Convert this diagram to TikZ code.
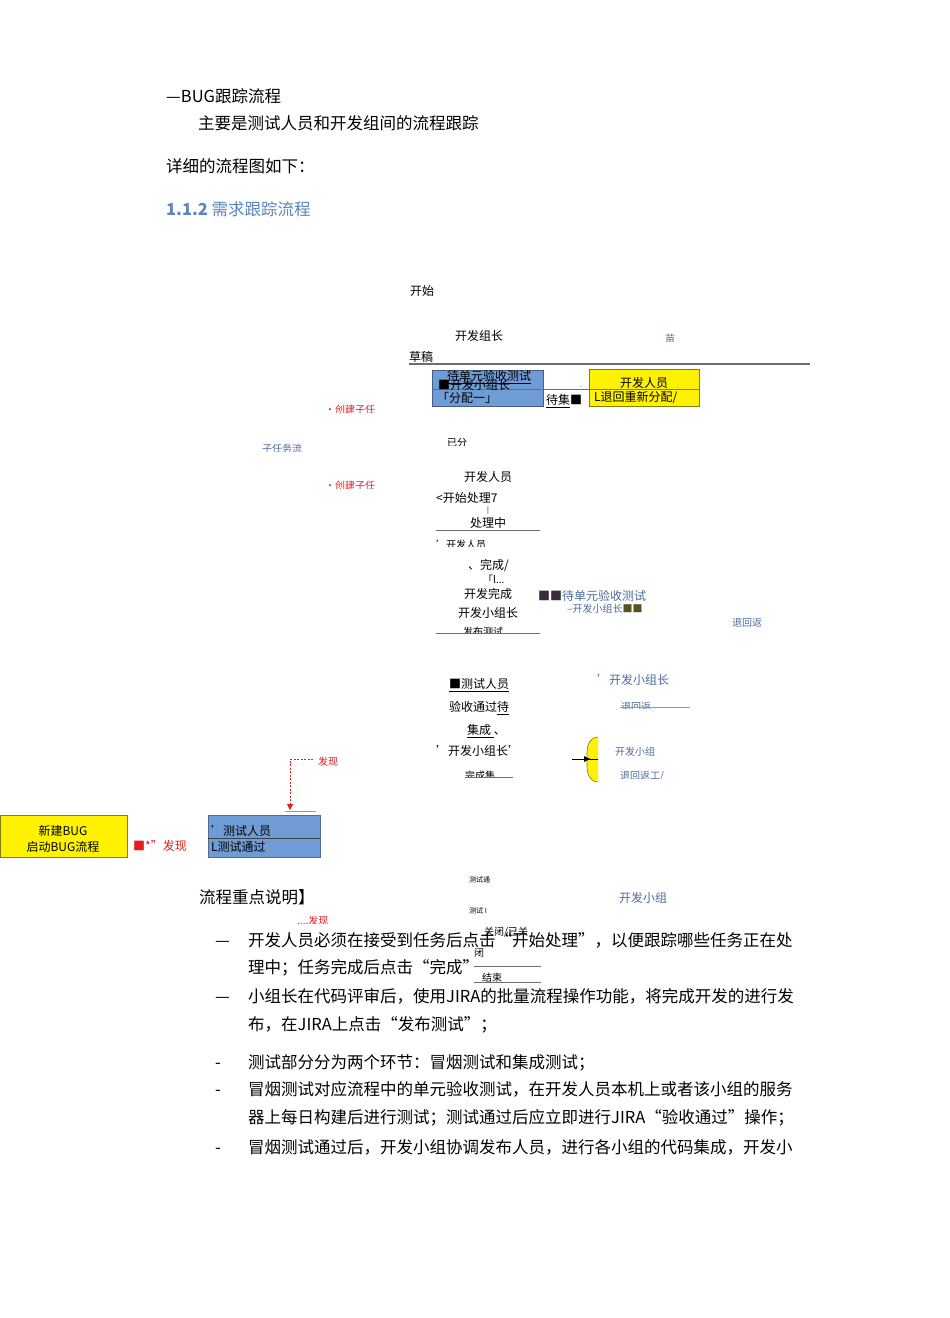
\documentclass[tikz,border=0pt]{standalone}
\usepackage{fontspec}
\setmainfont{Noto Sans CJK SC}
\usetikzlibrary{arrows.meta}
\definecolor{tblue}{RGB}{79,108,160}
\definecolor{hblue}{RGB}{92,132,192}
\definecolor{boxblue}{RGB}{112,156,214}
\definecolor{olivec}{RGB}{130,125,20}
\definecolor{tred}{RGB}{228,30,30}
\definecolor{sqc}{RGB}{55,45,60}
\definecolor{sqol}{RGB}{85,85,30}
\definecolor{linec}{RGB}{110,110,110}
\tikzset{
  txt/.style={anchor=west,inner sep=0pt,font=\fontsize{16.5}{19}\selectfont,text height=14.5pt,text depth=2pt},
  sm/.style={anchor=west,inner sep=0pt,font=\fontsize{12}{14}\selectfont,text height=10.5pt,text depth=1.5pt},
  smc/.style={sm,anchor=center},
  xs/.style={anchor=west,inner sep=0pt,font=\fontsize{10}{12}\selectfont,text height=8.8pt,text depth=1.2pt},
  tn/.style={anchor=west,inner sep=0pt,font=\fontsize{7}{8}\selectfont,text height=6.2pt,text depth=0.8pt},
  rule/.style={draw=linec,line width=0.8pt},
  bluebox/.style={fill=boxblue,draw=boxblue!70!black,line width=0.4pt},
  yelbox/.style={fill=yellow,draw=olivec,line width=0.8pt}
}
\begin{document}
\begin{tikzpicture}[x=1pt,y=-1pt]
\useasboundingbox[fill=white] (0,0) rectangle (950,1318);

% ---------- heading text ----------
\node[txt] (h1) at (166,96) {—BUG跟踪流程};
\node[txt] (h2) at (198,123) {主要是测试人员和开发组间的流程跟踪};
\node[txt] (h3) at (166,166) {详细的流程图如下：};
\node[txt,text=hblue] (h4) at (166,209) {\textbf{1.1.2} 需求跟踪流程};

% ---------- top of diagram ----------
\node[sm] (start) at (410,291) {开始};
\node[sm] (zz) at (455,336) {开发组长};
\begin{scope}
  \clip (660,333) rectangle (690,341);
  \node[xs,text=tblue] (miao) at (665,339) {苗};
\end{scope}
\node[sm] (cg) at (409,357) {草稿};
\draw[draw=linec,line width=1.3pt] (409,364) -- (810,364);

% blue box and yellow box
\fill[boxblue] (432,370) rectangle (543,406);
\draw[draw=boxblue!60!black,line width=0.3pt] (432,370) rectangle (543,406);
\node[yelbox,minimum width=110pt,minimum height=37pt,inner sep=0pt,anchor=north west] (ybox1) at (589,369) {};
\draw[draw=linec,line width=0.8pt] (432,389) -- (ybox1.west |- 0,389);
\draw[draw=olivec,line width=0.6pt] (589,389) -- (699,389);
\node[sm] (dy) at (447,376) {\underline{待单元验收测试}};
\node[sm] (kfxz) at (438,385) {■开发小组长};
\node[sm] (fp) at (437,398) {「分配一」};
\node[sm] (djc) at (546,400) {\underline{待集}■};
\node[tn] (dot) at (580,385) {.};
\node[smc] (kfry1) at (644,383) {开发人员};
\node[sm] (th) at (594,397) {L退回重新分配/};

% left labels
\begin{scope}
  \clip (320,404) rectangle (390,412);
  \node[xs,text=tred] (cj1) at (325,410) {•创建子任};
\end{scope}
\begin{scope}
  \clip (255,443) rectangle (320,451);
  \node[xs,text=tblue] (zrw) at (262,449) {子任务流};
\end{scope}
\begin{scope}
  \clip (440,437) rectangle (480,445);
  \node[xs] (yf) at (447,443) {已分};
\end{scope}
\node[sm] (kfry2) at (464,477) {开发人员};
\node[sm] (ksl) at (436,498) {<开始处理7};
\node[tn] (bar) at (487,510) {|};
\node[sm] (clz) at (470,523) {处理中};
\draw[rule] (436,530) -- (540,530);
\begin{scope}
  \clip (430,538) rectangle (520,546);
  \node[xs] (kfry3) at (436,545) {'开发人员};
\end{scope}
\begin{scope}
  \clip (255,480) rectangle (390,488);
  \node[xs,text=tred] (cj2) at (325,486) {•创建子任};
\end{scope}
\node[sm] (wc) at (468,565) {、完成/};
\node[xs] (lq) at (483,580) {「l...};
\node[sm] (kfwc) at (464,594) {开发完成};
\node[sm] (dy2) at (538,596) {\textcolor{sqc}{■■}\textcolor{tblue}{待单元验收测试}};
\node[xs] (kfxz2) at (567,609) {\textcolor{tblue}{–开发小组长}\textcolor{sqol}{■■}};
\node[sm] (kfxz3) at (458,613) {开发小组长};
\begin{scope}
  \clip (430,624) rectangle (545,633);
  \node[xs] (fbcs) at (463,632) {发布测试};
\end{scope}
\draw[rule] (436,633) -- (540,633);
\begin{scope}
  \clip (725,618) rectangle (780,626);
  \node[xs,text=tblue] (thf1) at (732,623) {退回返};
\end{scope}

% middle part
\node[sm] (csry) at (449,684) {\underline{■测试人员}};
\node[sm,text=tblue] (kfxz4) at (597,680) {'开发小组长};
\node[sm] (ystg) at (449,707) {验收通过\underline{待}};
\begin{scope}
  \clip (615,701) rectangle (700,708);
  \node[xs,text=tblue] (thf2) at (621,707) {退回返};
\end{scope}
\draw[draw=tblue!70,line width=0.6pt] (620,707) -- (690,707);
\node[sm] (jc) at (467,730) {\underline{集成\ }、};
\node[sm] (kfxz5) at (436,751) {'开发小组长'};
\begin{scope}
  \clip (460,769) rectangle (520,777);
  \node[xs] (wcj) at (465,776) {完成集};
\end{scope}
\draw[rule] (465,777) -- (513,777);
\begin{scope}
  \clip (610,746) rectangle (680,756);
  \node[xs,text=tblue] (kfxz6) at (615,752) {开发小组};
\end{scope}
\begin{scope}
  \clip (615,769) rectangle (690,778);
  \node[xs,text=tblue] (thf3) at (620,776) {退回返工/};
\end{scope}

% yellow half shape with arrow
\fill[yellow] (598,737) .. controls (590,737) and (587,745) .. (587,752) -- (587,766) .. controls (587,774) and (590,782) .. (598,782) -- cycle;
\draw[draw=olivec,line width=0.6pt] (598,737) .. controls (590,737) and (587,745) .. (587,752) -- (587,766) .. controls (587,774) and (590,782) .. (598,782);
\coordinate (yh) at (598,759);
\coordinate (ain) at (572,759);
\draw[line width=0.6pt] (587,759) -- (yh);
\draw[-{Latex[length=7pt,width=6pt]},line width=0.8pt] (ain) -- (591,759);

% red dashed connector
\begin{scope}
  \clip (312,755) rectangle (350,765);
  \node[xs,text=tred] (fx1) at (318,762) {发现};
\end{scope}
\coordinate (d1) at (313,759);
\coordinate (d2) at (290,810);
\draw[draw=tred,dashed,dash pattern=on 2pt off 1.5pt,line width=0.9pt,-{Triangle[length=6pt,width=6pt]}] (d1) -| (d2);
\draw[draw=linec!70,line width=0.6pt] (285,811) -- (316,811);

% bottom-left boxes
\node[yelbox,minimum width=127pt,minimum height=42pt,inner sep=0pt,anchor=north west] (bug) at (0,815) {};
\node[smc] (bug1) at (63,831) {新建BUG};
\node[smc] (bug2) at (63,847) {启动BUG流程};
\node[bluebox,minimum width=112pt,minimum height=42pt,inner sep=0pt,anchor=north west] (tbox) at (208,815) {};
\draw[draw=linec!60!black,line width=0.6pt] (tbox.west |- 0,838) -- (tbox.east |- 0,838);
\node[sm] (csry2) at (211,831) {'测试人员};
\node[sm] (cstg) at (211,847) {L测试通过};
\node[sm,text=tred] (fx2) at (133,846) {■*"发现};

% ---------- explanation ----------
\node[txt] (lc) at (199,897) {流程重点说明】};
\node[tn] (cst1) at (469,880) {测试通};
\node[sm,text=tblue] (kfxz7) at (619,898) {开发小组};
\node[tn] (cst2) at (469,911) {测试 I};
\begin{scope}
  \clip (290,915) rectangle (345,923);
  \node[xs,text=tred] (fx4) at (297,921) {....发现};
\end{scope}

\node[txt] (b1) at (215,940) {—};
\node[txt] (l1) at (248,940) {开发人员必须在接受到任务后点击“开始处理”，以便跟踪哪些任务正在处};
\node[txt] (l2) at (248,967) {理中；任务完成后点击“完成”};
\node[xs] (gb) at (484,932) {关闭/已关};
\node[xs] (bi) at (474,953) {闭};
\draw[rule] (474,966) -- (541,966);
\node[xs] (js) at (482,978) {结束};
\draw[rule] (474,982) -- (541,982);

\node[txt] (b2) at (215,996) {—};
\node[txt] (l3) at (248,996) {小组长在代码评审后，使用JIRA的批量流程操作功能，将完成开发的进行发};
\node[txt] (l4) at (248,1024) {布，在JIRA上点击“发布测试”；};
\node[txt] (b3) at (215,1062) {-};
\node[txt] (l5) at (248,1062) {测试部分分为两个环节：冒烟测试和集成测试；};
\node[txt] (b4) at (215,1089) {-};
\node[txt] (l6) at (248,1089) {冒烟测试对应流程中的单元验收测试，在开发人员本机上或者该小组的服务};
\node[txt] (l7) at (248,1117) {器上每日构建后进行测试；测试通过后应立即进行JIRA“验收通过”操作；};
\node[txt] (b5) at (215,1147) {-};
\node[txt] (l8) at (248,1147) {冒烟测试通过后，开发小组协调发布人员，进行各小组的代码集成，开发小};
\end{tikzpicture}
\end{document}
